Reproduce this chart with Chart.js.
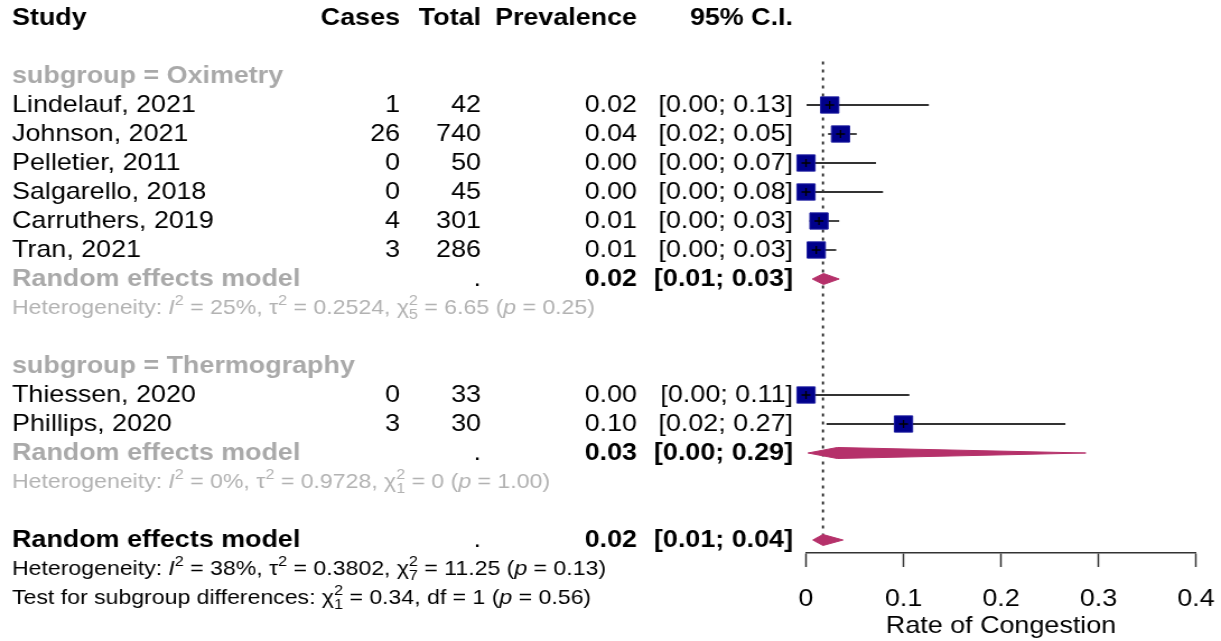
<!DOCTYPE html>
<html>
<head>
<meta charset="utf-8">
<script src="https://cdn.jsdelivr.net/npm/chart.js@4.4.1/dist/chart.umd.min.js"></script>
<style>
  html, body { margin: 0; padding: 0; background: #fff; overflow: hidden; }
</style>
</head>
<body>
<canvas id="forest" width="1090" height="641" style="display:block;width:1221px;height:641px"></canvas>
<script>
// study level data
const studies = ["Lindelauf, 2021", "Johnson, 2021", "Pelletier, 2011", "Salgarello, 2018",
  "Carruthers, 2019", "Tran, 2021", "Thiessen, 2020", "Phillips, 2020"];
const studyGroup = [0, 0, 0, 0, 0, 0, 1, 1];
const cases = [1, 26, 0, 0, 4, 3, 0, 3];
const totals = [42, 740, 50, 45, 301, 286, 33, 30];
const prevalence = [0.0243, 0.0354, 0, 0, 0.0133, 0.0105, 0, 0.1];
const ciLower = [0.0006, 0.0226, 0, 0, 0.0036, 0.0022, 0, 0.021];
const ciUpper = [0.126, 0.052, 0.0718, 0.079, 0.034, 0.031, 0.106, 0.266];

// subgroup random effects
const subgroups = ["Oximetry", "Thermography"];
const groupEst = [0.018, 0.032];
const groupLower = [0.0065, 0.002];
const groupUpper = [0.034, 0.287];
const groupI2 = [25, 0];
const groupTau2 = ["0.2524", "0.9728"];
const groupQ = ["6.65", "0"];
const groupDf = [5, 1];
const groupP = ["0.25", "1.00"];

// overall model
const overallEst = 0.0174;
const overallLower = 0.007;
const overallUpper = 0.038;
const overallHet = [38, "0.3802", "11.25", 7, "0.13"];
const testSub = ["0.34", 1, "0.56"];

const axisTicks = [0, 0.1, 0.2, 0.3, 0.4];
const axisTitle = "Rate of Congestion";

const FONT = '"Liberation Sans", Arial, Helvetica, sans-serif';
const SX = 1221 / 1090;            // canvas is stretched sideways like the source image
const px = (v) => v / SX;
const GRAY = "#a9a9a9";
const HET_GRAY = "#b2b2b2";

// row layout: header, blank, then each subgroup block, then overall
const studyRow = [];
const groupRows = [];
let row = 2;
subgroups.forEach((g, gi) => {
  const labelRow = row++;
  studies.forEach((s, i) => { if (studyGroup[i] === gi) studyRow[i] = row++; });
  groupRows.push({ label: labelRow, re: row++, het: row++ });
  row++;
});
const overallRow = row;

const fmt = (v) => v.toFixed(2);
const ciText = (lo, hi) => `[${fmt(lo)}; ${fmt(hi)}]`;

const hetRuns = (i2, tau2, q, df, p) => [
  { t: "Heterogeneity: " }, { t: "I", it: true }, { sup: "2" }, { t: ` = ${i2}%, \u03c4` }, { sup: "2" },
  { t: ` = ${tau2}, \u03c7` }, { sup: "2", sub: String(df) }, { t: ` = ${q} (` }, { t: "p", it: true }, { t: ` = ${p})` }
];

function drawRuns(ctx, runs, x, y, size, color) {
  ctx.fillStyle = color;
  ctx.textBaseline = "middle";
  ctx.textAlign = "left";
  let cx = x;
  runs.forEach((r) => {
    if (r.sup !== undefined || r.sub !== undefined) {
      ctx.font = `${size * 0.7}px ${FONT}`;
      let w = 0;
      if (r.sup !== undefined) { ctx.fillText(r.sup, cx, y - size * 0.38); w = ctx.measureText(r.sup).width; }
      if (r.sub !== undefined) { ctx.fillText(r.sub, cx, y + size * 0.32); w = Math.max(w, ctx.measureText(r.sub).width); }
      cx += w;
    } else {
      ctx.font = `${r.it ? "italic " : ""}${size}px ${FONT}`;
      ctx.fillText(r.t, cx, y);
      cx += ctx.measureText(r.t).width;
    }
  });
}

function txt(ctx, s, x, y, align, bold, color, size) {
  ctx.font = `${bold ? "bold " : ""}${size || 24}px ${FONT}`;
  ctx.fillStyle = color || "#000";
  ctx.textAlign = align;
  ctx.textBaseline = "middle";
  ctx.fillText(s, x, y);
}

const COL = { study: px(12), cases: px(400), total: px(481), prev: px(637), ci: px(793) };

const tablePlugin = {
  id: "forestTable",
  afterDraw(chart) {
    const ctx = chart.ctx;
    const y = (r) => chart.scales.y.getPixelForValue(r) + 0.5;
    ctx.save();
    // header
    txt(ctx, "Study", COL.study, y(0), "left", true);
    txt(ctx, "Cases", COL.cases, y(0), "right", true);
    txt(ctx, "Total", COL.total, y(0), "right", true);
    txt(ctx, "Prevalence", COL.prev, y(0), "right", true);
    txt(ctx, "95% C.I.", COL.ci, y(0), "right", true);

    studies.forEach((s, i) => {
      const yy = y(studyRow[i]);
      txt(ctx, s, COL.study, yy, "left", false);
      txt(ctx, String(cases[i]), COL.cases, yy, "right", false);
      txt(ctx, String(totals[i]), COL.total, yy, "right", false);
      txt(ctx, fmt(prevalence[i]), COL.prev, yy, "right", false);
      txt(ctx, ciText(ciLower[i], ciUpper[i]), COL.ci, yy, "right", false);
    });

    subgroups.forEach((g, gi) => {
      const r = groupRows[gi];
      txt(ctx, "subgroup = " + g, COL.study, y(r.label), "left", true, GRAY);
      txt(ctx, "Random effects model", COL.study, y(r.re), "left", true, GRAY);
      txt(ctx, ".", COL.total, y(r.re), "right", false);
      txt(ctx, fmt(groupEst[gi]), COL.prev, y(r.re), "right", true);
      txt(ctx, ciText(groupLower[gi], groupUpper[gi]), COL.ci, y(r.re), "right", true);
      drawRuns(ctx, hetRuns(groupI2[gi], groupTau2[gi], groupQ[gi], groupDf[gi], groupP[gi]),
        COL.study, y(r.het), 20.6, HET_GRAY);
    });

    txt(ctx, "Random effects model", COL.study, y(overallRow), "left", true);
    txt(ctx, ".", COL.total, y(overallRow), "right", false);
    txt(ctx, fmt(overallEst), COL.prev, y(overallRow), "right", true);
    txt(ctx, ciText(overallLower, overallUpper), COL.ci, y(overallRow), "right", true);
    drawRuns(ctx, hetRuns(...overallHet), COL.study, y(overallRow + 1), 20.6, "#000");
    drawRuns(ctx, [
      { t: "Test for subgroup differences: \u03c7" }, { sup: "2", sub: String(testSub[1]) },
      { t: ` = ${testSub[0]}, df = ${testSub[1]} (` }, { t: "p", it: true }, { t: ` = ${testSub[2]})` }
    ], COL.study, y(overallRow + 2), 20.6, "#000");
    ctx.restore();
  }
};

const DIAMOND_H = 0.19;
const diamond = (est, lo, hi, r) => [
  { x: lo, y: r }, { x: est, y: r - DIAMOND_H }, { x: hi, y: r }, { x: est, y: r + DIAMOND_H }, { x: lo, y: r }
];

const datasets = [];
// black crosses inside the squares
datasets.push({
  type: "scatter",
  data: studies.map((s, i) => ({ x: prevalence[i], y: studyRow[i] })),
  pointStyle: "cross", pointRadius: 4, borderColor: "#000", borderWidth: 1.3,
  clip: false, order: 1
});
// squares
datasets.push({
  type: "scatter",
  data: studies.map((s, i) => ({ x: prevalence[i], y: studyRow[i] })),
  pointStyle: "rect", pointRadius: 11.5, backgroundColor: "#00008b", borderColor: "#1c1ca0", borderWidth: 1,
  clip: false, order: 2
});
// diamonds
subgroups.forEach((g, gi) => {
  datasets.push({
    type: "line", data: diamond(groupEst[gi], groupLower[gi], groupUpper[gi], groupRows[gi].re),
    fill: "shape", backgroundColor: "#b5316a", borderColor: "#b5316a", borderWidth: 1,
    pointRadius: 0, tension: 0, clip: false, order: 3
  });
});
datasets.push({
  type: "line", data: diamond(overallEst, overallLower, overallUpper, overallRow),
  fill: "shape", backgroundColor: "#b5316a", borderColor: "#b5316a", borderWidth: 1,
  pointRadius: 0, tension: 0, clip: false, order: 3
});
// confidence intervals
studies.forEach((s, i) => {
  datasets.push({
    type: "line", data: [{ x: ciLower[i], y: studyRow[i] }, { x: ciUpper[i], y: studyRow[i] }],
    borderColor: "#333", borderWidth: 1.8, pointRadius: 0, clip: false, order: 4
  });
});
// dotted line at the overall estimate
datasets.push({
  type: "line", data: [{ x: overallEst, y: 1.5 }, { x: overallEst, y: overallRow }],
  borderColor: "#222", borderWidth: 1.8, borderDash: [3, 5], pointRadius: 0, clip: false, order: 5
});

new Chart(document.getElementById("forest"), {
  type: "scatter",
  data: { datasets },
  options: {
    responsive: false,
    devicePixelRatio: 1,
    animation: false,
    layout: { autoPadding: false, padding: { left: px(806), right: 1090 - px(1196), top: 3.5, bottom: 0 } },
    plugins: { legend: { display: false }, tooltip: { enabled: false } },
    scales: {
      x: {
        type: "linear", min: 0, max: 0.4,
        afterBuildTicks: (s) => { s.ticks = axisTicks.map((v) => ({ value: v })); },
        afterFit: (s) => { s.height = 88; s.paddingLeft = 0; s.paddingRight = 0; },
        ticks: { color: "#000", font: { family: FONT, size: 24 }, padding: 18, maxRotation: 0, autoSkip: false },
        grid: { drawOnChartArea: false, drawTicks: true, tickLength: 14, tickColor: "#333", tickWidth: 1.5 },
        border: { display: true, color: "#333", width: 1.5 },
        title: { display: true, text: axisTitle, color: "#000", font: { family: FONT, size: 24 }, padding: { top: 0, bottom: 0 } }
      },
      y: {
        type: "linear", reverse: true, min: -0.5, max: (553 - 18) / 29,
        display: false,
        ticks: { display: false }
      }
    }
  },
  plugins: [tablePlugin]
});
</script>
</body>
</html>
